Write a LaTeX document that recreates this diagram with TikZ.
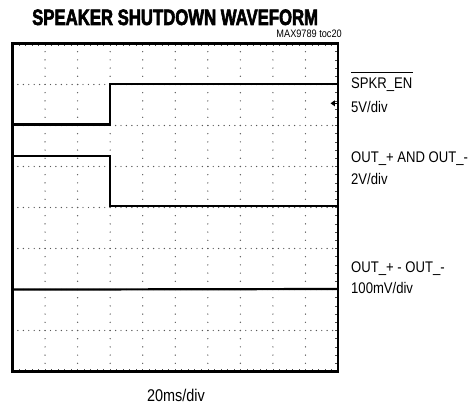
\documentclass[tikz,border=0pt]{standalone}
\usepackage{fontspec}
\setmainfont{Liberation Sans}
\newfontfamily\condfont{Liberation Sans}[FakeStretch=0.85]
\newfontfamily\titlefont{Liberation Sans}[FakeStretch=0.75,BoldFeatures={FakeBold=2.5}]
\begin{document}
\begin{tikzpicture}[x=1pt,y=-1pt,
  frame/.style={line width=2.5pt, draw=black},
  trace/.style={line width=2.2pt, line join=miter, draw=black},
  griddot/.style={fill=black!65},
  tickmark/.style={line width=0.6pt, draw=black!70},
  lbl/.style={anchor=base west, inner sep=0pt, font=\condfont\fontsize{15.4}{18}\selectfont},
]
\useasboundingbox (0,0) rectangle (474,406);
% grid dots
\foreach \i in {1,...,9} {
  \foreach \j in {1,...,39} {
    \fill[griddot] ({12.5+32.55*\i},{43.5+8.2*\j}) circle (0.7pt);
  }
}
\foreach \k in {1,...,7} {
  \foreach \j in {1,...,59} {
    \fill[griddot] ({12.5+5.425*\j},{43.5+41*\k}) circle (0.7pt);
  }
}
% edge ticks
\foreach \j in {1,...,49} {
  \draw[tickmark] ({12.5+6.51*\j},43.5) -- ++(0,3);
  \draw[tickmark] ({12.5+6.51*\j},371.5) -- ++(0,-3);
}
\foreach \j in {1,...,39} {
  \draw[tickmark] (338,{43.5+8.2*\j}) -- ++(-3,0);
}
% frame
\draw[frame] (12.5,43.5) rectangle (338,371.5);
% traces
\draw[trace] (12.5,124.5) -- (110.15,124.5) -- (110.15,84) -- (338,84);
\draw[trace] (12.5,155.7) -- (110.15,155.7) -- (110.15,206) -- (338,206);
\draw[trace] (12.5,289.6) -- (338,289);
% ground marker
\fill (330.5,103.3) -- (334.8,100.3) -- (334.8,106.3) -- cycle;
\draw[line width=1pt] (333,103.3) -- (338,103.3);
% texts
\node[font=\titlefont\bfseries\fontsize{22.3}{26}\selectfont, anchor=base west, inner sep=0pt] (title) at (32,25) {SPEAKER SHUTDOWN WAVEFORM};
\node[anchor=base east, inner sep=0pt, font=\condfont\fontsize{10.8}{12}\selectfont] (toc) at (342,37.5) {MAX9789 toc20};
\node[lbl] (en) at (351,89) {SPKR\_EN};
\draw[line width=0.9pt] ([yshift=5.7pt]en.north west) -- ([yshift=5.7pt]en.north east);
\node[lbl] (v5) at (351,113) {5V/div};
\node[lbl] (outs) at (351,162.5) {OUT\_+ AND OUT\_-};
\node[lbl] (v2) at (351,184.5) {2V/div};
\node[lbl] (diff) at (351,272.5) {OUT\_+ - OUT\_-};
\node[lbl] (mv) at (351,294) {100mV/div};
\node[font=\condfont\fontsize{17}{20}\selectfont, anchor=base, inner sep=0pt] (tdiv) at (176,401) {20ms/div};
\end{tikzpicture}
\end{document}
